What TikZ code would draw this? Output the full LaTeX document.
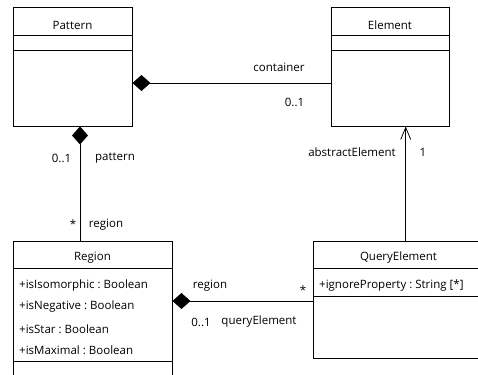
\documentclass[tikz,border=0pt]{standalone}
\usepackage{fontspec}
\setmainfont{Open Sans}
\usetikzlibrary{arrows.meta, positioning}
\tikzstyle{cls} = [rectangle, draw, line width=0.9pt, inner sep=0pt]
\tikzstyle{assoc} = [line width=0.8pt]

\begin{document}
\begin{tikzpicture}[x=1pt, y=-1pt,
        every node/.style={font=\fontsize{11.5}{13}\selectfont, inner sep=0pt},
        attr/.style={anchor=west},
        comp/.style={assoc, {Diamond[length=18pt,width=16pt]}-},
        nav/.style={assoc, -{Straight Barb[length=12pt,width=10pt]}}
    ]
    \useasboundingbox (0,0) rectangle (478,374);
    \clip (0,0) rectangle (478,374);

    % classes
    \node (pattern) [cls, minimum width=119pt, minimum height=119pt] at (72.5,66.5) {};
    \node (element) [cls, minimum width=118pt, minimum height=119pt] at (390,66.5) {};
    \node (region)  [cls, minimum width=159pt, minimum height=160pt] at (92.5,321) {};
    \node (query)   [cls, minimum width=171pt, minimum height=117pt] at (398.5,299.5) {};

    \foreach \c/\a/\b in {pattern/29/44, element/29/44, region/28/121, query/28/56} {
        \draw [line width=0.9pt] ([yshift=-\a pt]\c.north west) -- ([yshift=-\a pt]\c.north east);
        \draw [line width=0.9pt] ([yshift=-\b pt]\c.north west) -- ([yshift=-\b pt]\c.north east);
    }

    \node (patternT) at (72.5,25)  {Pattern};
    \node (elementT) at (390,25)   {Element};
    \node (regionT)  at (92.5,258) {Region};
    \node (queryT)   at (398.5,258) {QueryElement};

    \node (iso) [attr] at (19,286) {+isIsomorphic\ :\ Boolean};
    \node (neg) [attr] at (19,307) {+isNegative\ :\ Boolean};
    \node (sta) [attr] at (19,329) {+isStar\ :\ Boolean};
    \node (max) [attr] at (19,350) {+isMaximal\ :\ Boolean};
    \node (ign) [attr] at (319,286) {+ignoreProperty\ :\ String [*]};

    % associations
    \draw [comp] ([yshift=-16.5pt]pattern.east) -- ([yshift=-16.5pt]element.west);
    \draw [comp] ([xshift=7.5pt]pattern.south) -- ([xshift=7.5pt]pattern.south |- region.north);
    \draw [comp] ([yshift=-1.5pt]query.west -| region.east) -- ([yshift=-1.5pt]query.west);
    \draw [nav]  ([xshift=15.7pt]element.south |- query.north) -- ([xshift=15.7pt]element.south);

    % role names and multiplicities
    \node (lcont)  at (279,67)   {container};
    \node (mcont)  at (294.5,102) {0..1};
    \node (mpat)   at (61.5,158) {0..1};
    \node (lpat)   at (115,158)  {pattern};
    \node (mreg)   at (73,224)   {*};
    \node (lreg)   at (106,225)  {region};
    \node (labs)   at (352,152)  {abstractElement};
    \node (mabs)   at (423,152)  {1};
    \node (lreg2)  at (210,286)  {region};
    \node (mreg2)  at (201,322)  {0..1};
    \node (lqry)   at (259,322)  {queryElement};
    \node (mqry)   at (303,290)  {*};
\end{tikzpicture}
\end{document}
